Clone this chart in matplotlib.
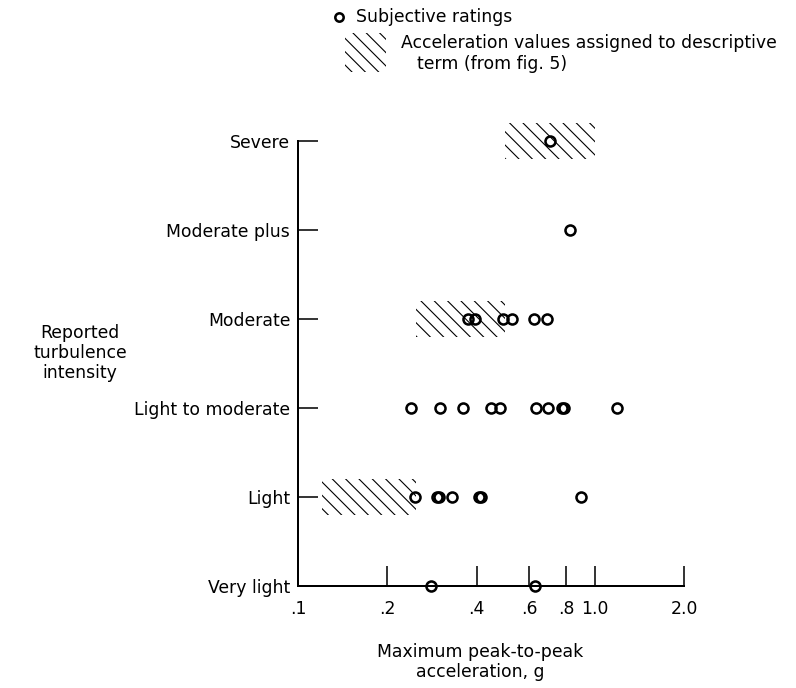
import matplotlib
import matplotlib.pyplot as plt
from matplotlib.lines import Line2D
from matplotlib.patches import Rectangle
from matplotlib.ticker import NullLocator

matplotlib.rc('font', family='DejaVu Sans', size=15.5)

# reported intensity levels, bottom to top
categories = ['Very light', 'Light', 'Light to moderate', 'Moderate',
              'Moderate plus', 'Severe']

# subjective ratings: max peak-to-peak acceleration, g
very_light = [0.28, 0.63]
light = [0.248, 0.293, 0.299, 0.33, 0.407, 0.413, 0.90]
light_to_moderate = [0.24, 0.30, 0.36, 0.447, 0.48, 0.634, 0.696, 0.774,
                     0.788, 1.19]
moderate = [0.374, 0.396, 0.491, 0.526, 0.624, 0.691]
moderate_plus = [0.826]
severe = [0.707]
ratings = [very_light, light, light_to_moderate, moderate, moderate_plus, severe]

# acceleration ranges assigned to descriptive terms (from fig. 5)
band_levels = [1, 3, 5]
band_low = [0.12, 0.25, 0.5]
band_high = [0.25, 0.5, 1.0]

xticks = [0.1, 0.2, 0.4, 0.6, 0.8, 1.0, 2.0]
xticklabels = ['.1', '.2', '.4', '.6', '.8', '1.0', '2.0']

fig = plt.figure(figsize=(9.95, 8.6), dpi=80)
ax = fig.add_axes([0.3744, 0.1483, 0.4849, 0.6467])

for lvl, lo, hi in zip(band_levels, band_low, band_high):
    ax.barh(lvl, hi - lo, left=lo, height=0.4, fill=False, hatch='\\\\',
            edgecolor='black', linewidth=0, clip_on=False, zorder=1)

for i, vals in enumerate(ratings):
    ax.plot(vals, [i] * len(vals), 'o', ms=9, mfc='none', mec='black',
            mew=2.3, clip_on=False, zorder=3)

ax.set_xscale('log')
ax.set_xlim(0.1, 2.0)
ax.set_ylim(0, 5)
ax.set_xticks(xticks)
ax.set_xticklabels(xticklabels)
ax.xaxis.set_minor_locator(NullLocator())
ax.set_yticks(range(len(categories)))
ax.set_yticklabels(categories)

for s in ['top', 'right']:
    ax.spines[s].set_visible(False)
for s in ['left', 'bottom']:
    ax.spines[s].set_linewidth(1.8)
ax.tick_params(axis='x', direction='in', length=18, width=1.4, pad=13)
ax.tick_params(axis='y', direction='in', length=18, width=1.4, pad=7)

fig.text(80 / 796, 1 - 353 / 688, 'Reported\nturbulence\nintensity',
         ha='center', va='center', linespacing=1.15)
fig.text(480 / 796, 1 - 662 / 688, 'Maximum peak-to-peak\nacceleration, g',
         ha='center', va='center', linespacing=1.2)

# legend drawn by hand
fig.add_artist(Line2D([339 / 796], [1 - 17 / 688], marker='o', ms=7.5,
                      mfc='none', mec='black', mew=2.3,
                      transform=fig.transFigure))
fig.text(356 / 796, 1 - 17 / 688, 'Subjective ratings', va='center')
fig.add_artist(Rectangle((345 / 796, 1 - 72 / 688), 41 / 796, 39 / 688,
                         fill=False, hatch='\\\\', edgecolor='black',
                         linewidth=0, transform=fig.transFigure))
fig.text(401 / 796, 1 - 43 / 688,
         'Acceleration values assigned to descriptive', va='center')
fig.text(417 / 796, 1 - 64 / 688, 'term (from fig. 5)', va='center')

fig.savefig('out.png', dpi=80)
